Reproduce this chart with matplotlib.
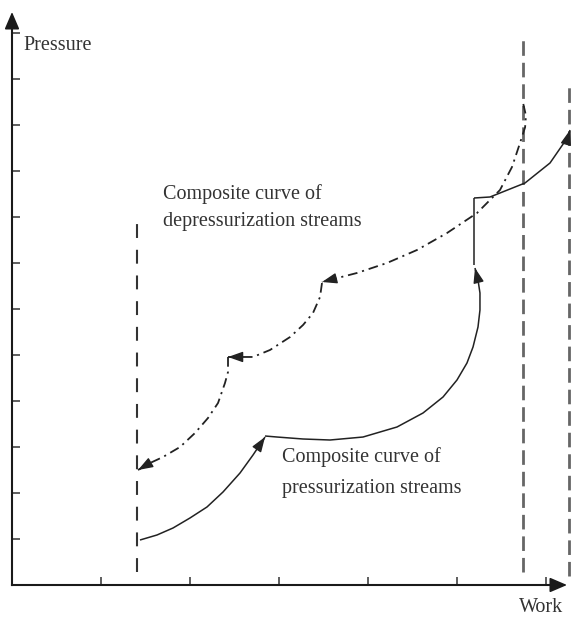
import numpy as np
import matplotlib
matplotlib.use('Agg')
import matplotlib.pyplot as plt

plt.rcParams['font.family'] = ['Liberation Serif', 'DejaVu Serif']
plt.rcParams['lines.scale_dashes'] = False

# values (x in units of x ticks, y in units of y ticks)
x_ticks = [1, 2, 3, 4, 5, 6]
y_ticks = [1, 2, 3, 4, 5, 6, 7, 8, 9, 10, 11, 12]

# vertical dashed guides: x, y bottom, y top
guide_x = [1.404, 5.74, 6.26]
guide_y0 = [0.28, 0.28, 0.20]
guide_y1 = [7.87, 11.85, 10.83]

# composite curve of pressurization streams (solid), four pieces
press_a_x = [1.438, 1.629, 1.809, 2.0, 2.191, 2.371, 2.562, 2.708, 2.843]
press_a_y = [0.978, 1.087, 1.239, 1.457, 1.696, 2.022, 2.435, 2.826, 3.217]
press_b_x = [2.843, 2.978, 3.270, 3.573, 3.944, 4.326, 4.618, 4.843, 5.0, 5.112,
             5.180, 5.236, 5.258, 5.258, 5.236, 5.202]
press_b_y = [3.239, 3.217, 3.174, 3.152, 3.217, 3.435, 3.739, 4.087, 4.457, 4.826,
             5.174, 5.609, 5.978, 6.348, 6.630, 6.891]
press_c_x = [5.191, 5.191]
press_c_y = [6.95, 8.413]
press_d_x = [5.191, 5.371, 5.764, 6.045, 6.247, 6.270]
press_d_y = [8.413, 8.435, 8.739, 9.174, 9.739, 9.891]

# composite curve of depressurization streams (dash-dot), three pieces
depr_e_x = [5.745, 5.775, 5.765, 5.708, 5.618, 5.483, 5.225, 4.888, 4.551, 4.213, 3.876, 3.483]
depr_e_y = [10.457, 10.2, 9.95, 9.609, 9.087, 8.587, 8.087, 7.652, 7.283, 7.0, 6.783, 6.587]
depr_f_x = [3.483, 3.461, 3.382, 3.270, 3.124, 2.899, 2.708, 2.427]
depr_f_y = [6.565, 6.261, 5.913, 5.652, 5.391, 5.109, 4.957, 4.957]
depr_g_x = [2.427, 2.427, 2.393, 2.315, 2.202, 2.056, 1.888, 1.697, 1.551, 1.416]
depr_g_y = [4.957, 4.630, 4.391, 3.957, 3.630, 3.304, 3.0, 2.783, 2.652, 2.5]

fig = plt.figure(figsize=(5.72, 6.19), dpi=100)
ax = fig.add_axes([0, 0, 1, 1])
ax.set_xlim(-12 / 89, 560 / 89)
ax.set_ylim(-34 / 46, 585 / 46)
ax.patch.set_alpha(0)

ax_col = '#1a1a1a'
for s in ['top', 'right']:
    ax.spines[s].set_visible(False)
ax.spines['left'].set_position(('data', 0))
ax.spines['bottom'].set_position(('data', 0))
ax.spines['left'].set_bounds(0, 12.3)
ax.spines['bottom'].set_bounds(0, 6.1)
for s in ['left', 'bottom']:
    ax.spines[s].set_linewidth(1.5)
    ax.spines[s].set_color(ax_col)
ax.set_xticks(x_ticks)
ax.set_yticks(y_ticks)
ax.set_xticklabels([])
ax.set_yticklabels([])
ax.tick_params(direction='in', length=6, width=1.1, color='#333333')

# axis arrowheads
big = '-|>,head_length=1.05,head_width=0.45'
ax.annotate('', xy=(0, 12.457), xytext=(0, 12.2),
            arrowprops=dict(arrowstyle=big, mutation_scale=10, color=ax_col, lw=1.2,
                            shrinkA=0, shrinkB=0))
ax.annotate('', xy=(6.236, 0), xytext=(6.1, 0),
            arrowprops=dict(arrowstyle=big, mutation_scale=10, color=ax_col, lw=1.2,
                            shrinkA=0, shrinkB=0))

# guide lines
ax.plot([guide_x[0]] * 2, [guide_y0[0], guide_y1[0]], color='#333333', lw=1.5,
        linestyle=(0, (10, 8.5)))
for gx, g0, g1 in zip(guide_x[1:], guide_y0[1:], guide_y1[1:]):
    ax.plot([gx, gx], [g0, g1], color='#666666', lw=2.0, linestyle=(0, (10.5, 5)))

curve_col = '#222222'
small = '-|>,head_length=0.9,head_width=0.32'


def arrow_end(xs, ys):
    tx, ty = xs[-1], ys[-1]
    px = tx + 0.3 * (xs[-2] - tx)
    py = ty + 0.3 * (ys[-2] - ty)
    ax.annotate('', xy=(tx, ty), xytext=(px, py),
                arrowprops=dict(arrowstyle=small, mutation_scale=10, color=curve_col,
                                lw=1.0, shrinkA=0, shrinkB=0))


for xs, ys, head in [(press_a_x, press_a_y, True), (press_b_x, press_b_y, True),
                     (press_c_x, press_c_y, False), (press_d_x, press_d_y, True)]:
    ax.plot(xs, ys, color=curve_col, lw=1.1, solid_capstyle='butt', solid_joinstyle='round')
    if head:
        arrow_end(xs, ys)

for xs, ys in [(depr_e_x, depr_e_y), (depr_f_x, depr_f_y), (depr_g_x, depr_g_y)]:
    ax.plot(xs, ys, color=curve_col, lw=1.3, linestyle=(0, (7, 3.5, 1.5, 3.5)))
    arrow_end(xs, ys)

txt = dict(fontsize=14.5, color='#333333', va='baseline', ha='left')
ax.text(0.124, 11.63, 'Pressure', **txt)
ax.text(5.697, -0.587, 'Work', **txt)
ax.text(1.697, 8.391, 'Composite curve of', **txt)
ax.text(1.697, 7.804, 'depressurization streams', **txt)
ax.text(3.034, 2.674, 'Composite curve of', **txt)
ax.text(3.034, 2.0, 'pressurization streams', **txt)

fig.savefig('out.png', dpi=100, facecolor='white')
